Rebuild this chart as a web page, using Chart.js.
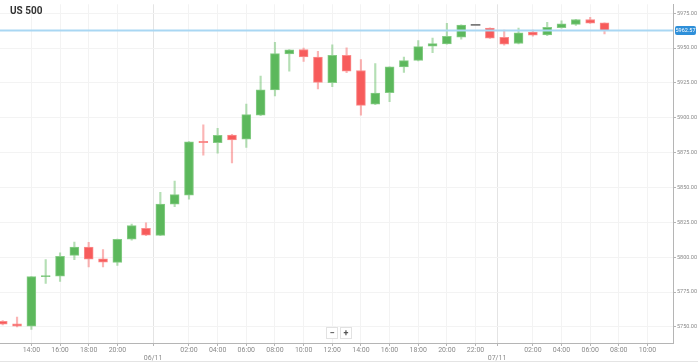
<!DOCTYPE html>
<html>
<head>
<meta charset="utf-8">
<script src="https://cdn.jsdelivr.net/npm/chart.js@4/dist/chart.umd.min.js"></script>
<style>
  html, body { margin: 0; padding: 0; background: #fff; }
  #wrap { position: relative; width: 698px; height: 363px; overflow: hidden; }
  #c { position: absolute; left: 0; top: 0; }
  #title { position: absolute; left: 10px; top: 5px; font: bold 10px Roboto, "Open Sans", sans-serif; color: #333; }
  #zoom { position: absolute; left: 326px; top: 327px; display: flex; gap: 2px; }
  #zoom span { width: 10px; height: 10px; border: 1px solid #e2e2e2; background: #fff; font: bold 9px Roboto, sans-serif; color: #555; line-height: 10px; text-align: center; }
  #frame { position: absolute; left: 0; top: 361px; width: 698px; height: 1px; background: #e4e4e4; }
</style>
</head>
<body>
<div id="wrap">
  <canvas id="c" width="698" height="363"></canvas>
  <div id="title">US 500</div>
  <div id="zoom"><span>−</span><span>+</span></div>
  <div id="frame"></div>
</div>
<script>
// Hourly candles (index 0 .. 42)
const opens  = [5754.0,5752.2,5750.6,5786.1,5786.4,5801.3,5807.2,5798.9,5796.3,5813.0,5820.8,5815.7,5838.1,5844.5,5883.1,5882.2,5887.7,5884.6,5901.8,5920.0,5945.8,5949.0,5943.6,5925.2,5944.8,5933.9,5909.8,5918.1,5936.5,5941.2,5951.4,5953.0,5957.8,5966.3,5964.4,5957.8,5953.3,5961.5,5959.4,5964.6,5967.0,5970.5,5968.1];
const highs  = [5754.5,5757.0,5786.2,5798.4,5803.1,5810.9,5810.7,5805.5,5813.0,5823.7,5824.6,5846.6,5854.6,5883.0,5895.0,5892.4,5888.2,5909.8,5929.9,5954.2,5949.0,5950.0,5947.6,5952.3,5950.2,5941.7,5938.9,5936.6,5943.6,5955.4,5957.1,5967.7,5966.6,5966.3,5964.5,5963.0,5964.4,5963.0,5968.4,5969.5,5970.7,5972.0,5968.2];
const lows   = [5751.5,5750.0,5748.2,5781.2,5782.6,5798.2,5793.0,5793.0,5794.2,5812.3,5815.4,5815.5,5836.2,5841.6,5873.2,5874.6,5867.6,5878.7,5901.5,5915.7,5933.4,5940.5,5920.7,5922.4,5932.3,5901.8,5909.5,5911.5,5932.5,5940.8,5946.7,5952.8,5956.4,5966.3,5957.0,5952.1,5953.0,5958.5,5958.9,5964.2,5966.3,5967.7,5960.1];
const closes = [5752.0,5750.6,5786.1,5786.6,5800.6,5807.2,5798.7,5796.5,5812.8,5822.7,5815.9,5838.1,5844.9,5882.7,5882.2,5887.4,5884.1,5902.3,5920.0,5946.0,5948.8,5943.6,5925.4,5944.8,5933.4,5908.9,5917.8,5936.5,5941.0,5951.1,5953.3,5958.5,5966.5,5966.3,5957.1,5952.8,5961.0,5959.2,5964.9,5967.4,5970.5,5967.9,5962.57];
const lastPrice = 5962.57;

// Time axis ticks (candle index positions) and labels
const xTickPos    = [2,4,6,8,10.5,13,15,17,19,21,23,25,27,29,31,33,34.5,37,39,41,43,45];
const xTickLabels = ['14:00','16:00','18:00','20:00','06/11','02:00','04:00','06:00','08:00','10:00','12:00','14:00','16:00','18:00','20:00','22:00','07/11','02:00','04:00','06:00','08:00','10:00'];
const dayTicks    = ['06/11','07/11'];
const yTicks      = [5750,5775,5800,5825,5850,5875,5900,5925,5950,5975];

const GREEN = '#5cb85c', GREEN_EDGE = '#86cc86', GREEN_WICK = 'rgba(92,184,92,0.45)';
const RED = '#f75b5b', RED_EDGE = '#fa8c8c', RED_WICK = 'rgba(247,91,91,0.45)';
const GRAY = '#7a7a7a';

function dir(i) {
  if (opens[i] === closes[i]) return 0;
  return closes[i] > opens[i] ? 1 : -1;
}

const bodyData = opens.map((o, i) => ({ x: i, y: [o, closes[i]] }));
const wickData = opens.map((o, i) => ({ x: i, y: [lows[i], highs[i]] }));

const priceLine = {
  id: 'priceLine',
  afterDatasetsDraw(chart) {
    const { ctx, chartArea, scales } = chart;
    const y = scales.y.getPixelForValue(lastPrice);
    ctx.save();
    ctx.strokeStyle = '#a9d7f3';
    ctx.lineWidth = 2;
    ctx.beginPath();
    ctx.moveTo(chartArea.left, y);
    ctx.lineTo(chartArea.right, y);
    ctx.stroke();
    const bx = chartArea.right + 2, bw = 21, bh = 9;
    ctx.fillStyle = '#2e8fd9';
    ctx.beginPath();
    if (ctx.roundRect) ctx.roundRect(bx, y - bh / 2, bw, bh, 2); else ctx.rect(bx, y - bh / 2, bw, bh);
    ctx.fill();
    ctx.fillStyle = '#ffffff';
    ctx.font = '5.5px Roboto, sans-serif';
    ctx.textAlign = 'center';
    ctx.textBaseline = 'middle';
    ctx.fillText(lastPrice.toFixed(2), bx + bw / 2, y + 0.5);
    ctx.restore();
  }
};

new Chart(document.getElementById('c'), {
  type: 'bar',
  data: {
    datasets: [
      {
        label: 'body',
        data: bodyData,
        order: 0,
        grouped: false,
        barThickness: 9,
        minBarLength: 1,
        borderSkipped: false,
        borderWidth: (c) => dir(c.dataIndex) === 0 ? 0 : 1,
        backgroundColor: (c) => { const d = dir(c.dataIndex); return d > 0 ? GREEN : d < 0 ? RED : GRAY; },
        borderColor: (c) => { const d = dir(c.dataIndex); return d > 0 ? GREEN_EDGE : d < 0 ? RED_EDGE : GRAY; }
      },
      {
        label: 'wick',
        data: wickData,
        order: 1,
        grouped: false,
        barThickness: 1.5,
        minBarLength: 0,
        borderWidth: 0,
        backgroundColor: (c) => { const d = dir(c.dataIndex); return d > 0 ? GREEN_WICK : d < 0 ? RED_WICK : 'rgba(0,0,0,0)'; }
      }
    ]
  },
  options: {
    responsive: false,
    animation: false,
    layout: { padding: 0 },
    plugins: { legend: { display: false }, tooltip: { enabled: false } },
    scales: {
      x: {
        type: 'linear',
        min: -0.19,
        max: 46.78,
        offset: false,
        afterBuildTicks: (s) => { s.ticks = xTickPos.map(v => ({ value: v })); },
        afterFit: (s) => { s.height = 20; },
        border: { display: true, color: '#b5b5b5', width: 1 },
        grid: {
          offset: false,
          drawOnChartArea: true,
          tickLength: 3,
          color: (c) => { const l = xTickLabels[xTickPos.indexOf(c.tick && c.tick.value)]; return dayTicks.includes(l) ? '#e4e4e4' : '#f3f3f3'; },
          tickColor: '#b5b5b5'
        },
        ticks: {
          autoSkip: false,
          maxRotation: 0,
          padding: 0,
          color: '#8a8a8a',
          font: { family: 'Roboto, sans-serif', size: 7, lineHeight: 1.2 },
          callback: (v) => {
            const l = xTickLabels[xTickPos.indexOf(v)];
            return dayTicks.includes(l) ? ['', l] : l;
          }
        }
      },
      y: {
        type: 'linear',
        position: 'right',
        min: 5738.5,
        max: 5981.4,
        afterBuildTicks: (s) => { s.ticks = yTicks.map(v => ({ value: v })); },
        afterFit: (s) => { s.width = 25; },
        border: { display: true, color: '#b5b5b5', width: 1 },
        grid: { color: '#f3f3f3', tickColor: '#b5b5b5', tickLength: 3 },
        ticks: {
          padding: 1,
          color: '#8a8a8a',
          font: { family: 'Roboto, sans-serif', size: 5.5 },
          callback: (v) => Number(v).toFixed(2)
        }
      }
    }
  },
  plugins: [priceLine]
});
</script>
</body>
</html>
